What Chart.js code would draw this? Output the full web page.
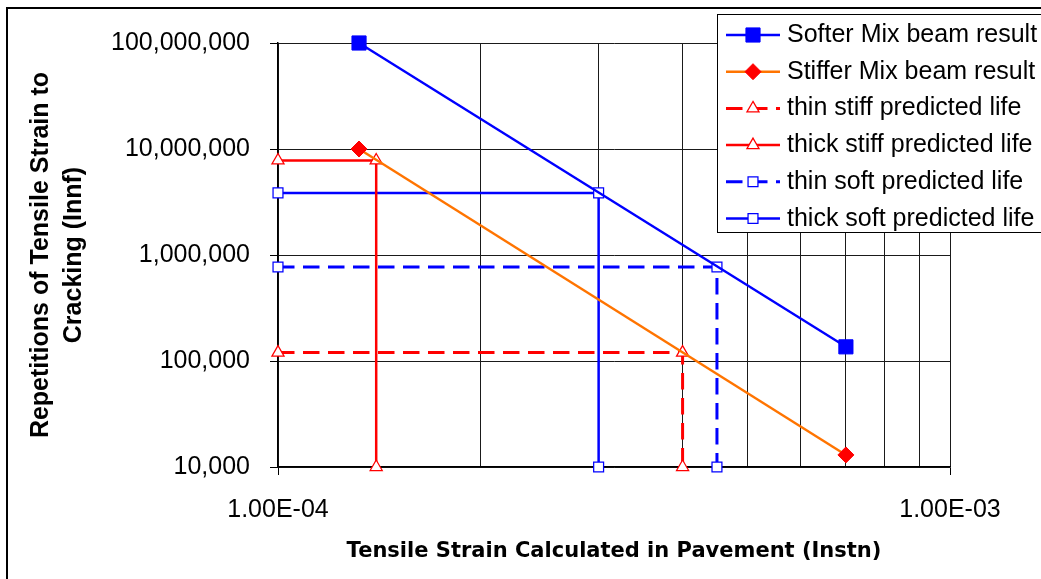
<!DOCTYPE html>
<html>
<head>
<meta charset="utf-8">
<script src="https://cdn.jsdelivr.net/npm/chart.js@4.4.1/dist/chart.umd.min.js"></script>
<style>
html,body{margin:0;padding:0;background:#fff;overflow:hidden}
canvas{display:block}
</style>
</head>
<body>
<canvas id="c" width="1041" height="579"></canvas>
<script>
// ---------------- data ----------------
const seriesNames = [
  "Softer Mix beam result",
  "Stiffer Mix beam result",
  "thin stiff predicted life",
  "thick stiff predicted life",
  "thin soft predicted life",
  "thick soft predicted life"
];
const softerStrain = [1.32e-4, 7.0e-4];
const softerReps = [1.0e8, 1.36e5];
const stifferStrain = [1.32e-4, 7.0e-4];
const stifferReps = [1.0e7, 1.3e4];
const thinStiffStrain = [1.0e-4, 4.0e-4, 4.0e-4];
const thinStiffReps = [1.2e5, 1.2e5, 1.0e4];
const thickStiffStrain = [1.0e-4, 1.4e-4, 1.4e-4];
const thickStiffReps = [7.8e6, 7.8e6, 1.0e4];
const thinSoftStrain = [1.0e-4, 4.5e-4, 4.5e-4];
const thinSoftReps = [7.7e5, 7.7e5, 1.0e4];
const thickSoftStrain = [1.0e-4, 3.0e-4, 3.0e-4];
const thickSoftReps = [3.85e6, 3.85e6, 1.0e4];
const xTickLabels = ["1.00E-04", "1.00E-03"];
const yTickLabels = ["10,000", "100,000", "1,000,000", "10,000,000", "100,000,000"];
const xTitle = "Tensile Strain Calculated in Pavement (Instn)";
const yTitle = ["Repetitions of Tensile Strain to", "Cracking (Innf)"];

// ---------------- helpers ----------------
const pts = (xs, ys) => xs.map((x, i) => ({x: x, y: ys[i]}));
const isDecade = v => Math.abs(Math.log10(v) - Math.round(Math.log10(v))) < 1e-6;
const isWholeSignificand = v => {
  const e = Math.floor(Math.log10(v) + 1e-9);
  const m = v / Math.pow(10, e);
  return Math.abs(m - Math.round(m)) < 1e-6;
};
const FONT = "'Liberation Sans', Arial, sans-serif";
const BLUE = '#0000FF', RED = '#FF0000', ORANGE = '#FF7400', GRID = '#1a1a1a';
const DASH = [16.5, 8.5];

const common = {showLine: true, fill: false, tension: 0, clip: false};
const datasets = [
  Object.assign({}, common, {label: seriesNames[0], data: pts(softerStrain, softerReps),
    borderColor: BLUE, borderWidth: 2.4, pointStyle: 'rect', pointRadius: 10,
    pointBackgroundColor: BLUE, pointBorderColor: BLUE, pointBorderWidth: 1}),
  Object.assign({}, common, {label: seriesNames[1], data: pts(stifferStrain, stifferReps),
    borderColor: ORANGE, borderWidth: 2.4, pointStyle: 'rectRot', pointRadius: 8,
    pointBackgroundColor: RED, pointBorderColor: RED, pointBorderWidth: 1}),
  Object.assign({}, common, {label: seriesNames[2], data: pts(thinStiffStrain, thinStiffReps),
    borderColor: RED, borderWidth: 3, borderDash: DASH, pointStyle: 'triangle', pointRadius: 7,
    pointBackgroundColor: '#FFFFFF', pointBorderColor: RED, pointBorderWidth: 1.25}),
  Object.assign({}, common, {label: seriesNames[3], data: pts(thickStiffStrain, thickStiffReps),
    borderColor: RED, borderWidth: 2.5, pointStyle: 'triangle', pointRadius: 7,
    pointBackgroundColor: '#FFFFFF', pointBorderColor: RED, pointBorderWidth: 1.25}),
  Object.assign({}, common, {label: seriesNames[4], data: pts(thinSoftStrain, thinSoftReps),
    borderColor: BLUE, borderWidth: 3, borderDash: DASH, pointStyle: 'rect', pointRadius: 7,
    pointBackgroundColor: '#FFFFFF', pointBorderColor: BLUE, pointBorderWidth: 1.25}),
  Object.assign({}, common, {label: seriesNames[5], data: pts(thickSoftStrain, thickSoftReps),
    borderColor: BLUE, borderWidth: 2.5, pointStyle: 'rect', pointRadius: 7,
    pointBackgroundColor: '#FFFFFF', pointBorderColor: BLUE, pointBorderWidth: 1.25})
];

// ---------------- plugins ----------------
const framePlugin = {
  id: 'frame',
  beforeDraw(chart) {
    const ctx = chart.ctx;
    ctx.save();
    ctx.fillStyle = '#FFFFFF';
    ctx.fillRect(0, 0, chart.width, chart.height);
    ctx.fillStyle = '#000000';
    ctx.fillRect(6, 7, 2, chart.height - 7);
    ctx.fillRect(6, 7, chart.width - 6, 2);
    ctx.restore();
  }
};

function drawMarker(ctx, style, r, x, y) {
  if (Chart.helpers && Chart.helpers.drawPoint) {
    Chart.helpers.drawPoint(ctx, {pointStyle: style, radius: r, borderWidth: ctx.lineWidth, rotation: 0}, x, y);
    return;
  }
  ctx.beginPath();
  if (style === 'rect') { const s = r * Math.SQRT1_2; ctx.rect(x - s, y - s, 2 * s, 2 * s); }
  else if (style === 'rectRot') { ctx.moveTo(x, y - r); ctx.lineTo(x + r, y); ctx.lineTo(x, y + r); ctx.lineTo(x - r, y); ctx.closePath(); }
  else { ctx.moveTo(x, y - r); ctx.lineTo(x + r * 0.866, y + r / 2); ctx.lineTo(x - r * 0.866, y + r / 2); ctx.closePath(); }
  ctx.fill(); ctx.stroke();
}

const legendPlugin = {
  id: 'customLegend',
  afterDraw(chart) {
    const ctx = chart.ctx;
    const L = 717.5, T = 14.5, R = 1060, B = 232.5;
    ctx.save();
    ctx.fillStyle = '#FFFFFF';
    ctx.fillRect(L, T, R - L, B - T);
    ctx.strokeStyle = '#000000';
    ctx.lineWidth = 1;
    ctx.strokeRect(L, T, R - L, B - T);
    chart.data.datasets.forEach((ds, i) => {
      const y = 35 + i * 36.7;
      ctx.setLineDash(ds.borderDash || []);
      ctx.strokeStyle = ds.borderColor;
      ctx.lineWidth = ds.borderWidth;
      ctx.beginPath();
      ctx.moveTo(726, y);
      ctx.lineTo(780, y);
      ctx.stroke();
      ctx.setLineDash([]);
      ctx.fillStyle = ds.pointBackgroundColor;
      ctx.strokeStyle = ds.pointBorderColor;
      ctx.lineWidth = ds.pointBorderWidth;
      drawMarker(ctx, ds.pointStyle, ds.pointRadius, 753, y);
      ctx.fillStyle = '#000000';
      ctx.font = '25px ' + FONT;
      ctx.textBaseline = 'alphabetic';
      ctx.textAlign = 'left';
      ctx.fillText(ds.label, 787, y + 7);
    });
    ctx.restore();
  }
};

// ---------------- chart ----------------
new Chart(document.getElementById('c'), {
  type: 'scatter',
  data: {datasets: datasets},
  options: {
    responsive: false,
    devicePixelRatio: 1,
    animation: false,
    events: [],
    layout: {padding: {left: 8, top: 43, right: 91, bottom: 0}},
    plugins: {legend: {display: false}, tooltip: {enabled: false}, title: {display: false}},
    scales: {
      x: {
        type: 'logarithmic', position: 'bottom', min: 1e-4, max: 1e-3,
        afterBuildTicks: s => { s.ticks = s.ticks.filter(t => isWholeSignificand(t.value)); },
        afterFit: s => { s.height = 112; },
        ticks: {
          autoSkip: false, maxRotation: 0, minRotation: 0, padding: 20, color: '#000',
          font: {family: FONT, size: 25},
          callback: v => isDecade(v) ? xTickLabels[Math.round(Math.log10(v)) + 4] : ''
        },
        grid: {
          color: GRID, lineWidth: 1, tickLength: 8, drawTicks: true,
          tickColor: c => (c.tick && isDecade(c.tick.value)) ? '#000' : 'rgba(0,0,0,0)'
        },
        border: {color: '#000', width: 1.5},
        title: {display: true, text: xTitle, color: '#000',
          font: {family: "'DejaVu Sans', sans-serif", size: 21, weight: 'bold', lineHeight: 1.2},
          padding: {top: 0, bottom: 15}}
      },
      y: {
        type: 'logarithmic', position: 'left', min: 1e4, max: 1e8,
        afterBuildTicks: s => { s.ticks = s.ticks.filter(t => isDecade(t.value)); },
        afterFit: s => { s.width = 270; },
        ticks: {
          autoSkip: false, padding: 20, color: '#000',
          font: {family: FONT, size: 25},
          callback: v => yTickLabels[Math.round(Math.log10(v)) - 4]
        },
        grid: {color: GRID, lineWidth: 1, tickLength: 8, drawTicks: true, tickColor: '#000'},
        border: {color: '#000', width: 1.5},
        title: {display: true, text: yTitle, color: '#000',
          font: {family: FONT, size: 25, weight: 'bold', lineHeight: 1.3},
          padding: {top: 17, bottom: 0}}
      }
    }
  },
  plugins: [framePlugin, legendPlugin]
});
</script>
</body>
</html>
